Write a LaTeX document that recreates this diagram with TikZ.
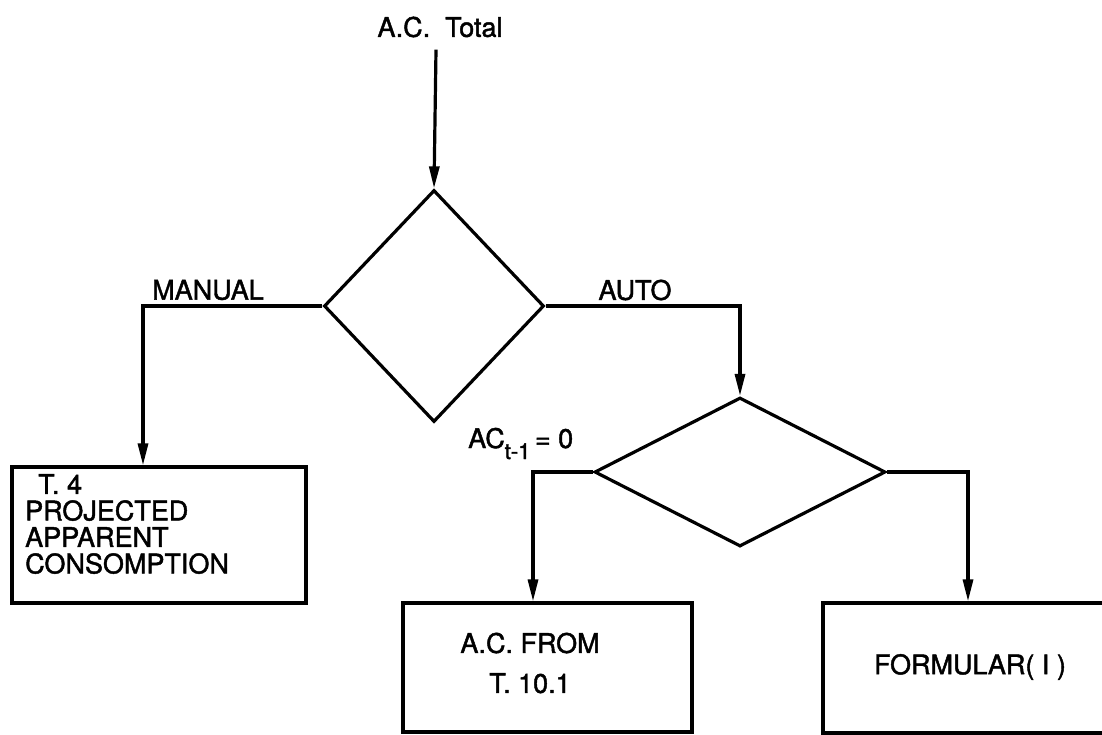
\documentclass[tikz,border=0pt]{standalone}
\usepackage{fontspec}
\setmainfont{TeX Gyre Heros}[FakeBold=1.6]
\usetikzlibrary{shapes.geometric,arrows.meta}
\tikzset{
  ln/.style={line width=3.2pt},
  arr/.style={ln,-{Triangle[length=22pt,width=10pt]}},
  dia/.style={ln,draw,diamond,inner sep=0pt,miter limit=20},
  boxx/.style={ln,draw,rectangle,inner sep=0pt},
  lbl/.style={inner sep=0pt,font=\fontsize{27}{26.5}\selectfont}
}
\begin{document}
\begin{tikzpicture}[x=1pt,y=-1pt]
\clip (0,0) rectangle (1102,734);
\fill[white] (0,0) rectangle (1102,734);
% texts
\node[lbl] (top) at (440,27) {A.C.\ \ Total};
\node[lbl] (man) at (208,290) {MANUAL};
\node[lbl] (auto) at (635,290) {AUTO};
\node[lbl,anchor=base west] (cond) at (468,448) {AC\raisebox{-11pt}{\fontsize{22}{22}\selectfont t-1}\,= 0};
% shapes
\node[dia,minimum width=220pt,minimum height=232pt] (d1) at (434,306) {};
\node[dia,minimum width=291pt,minimum height=149pt] (d2) at (740,472) {};
\node[boxx,minimum width=294pt,minimum height=136pt] (lbox) at (159,535) {};
\node[boxx,minimum width=289pt,minimum height=129pt] (mbox) at (547.5,667.5) {};
\node[boxx,minimum width=290pt,minimum height=130pt] (rbox) at (968,668) {};
% box texts
\node[lbl,anchor=north west,align=left] (ltext) at (25,474) {\hspace*{13pt}T. 4\\PROJECTED\\APPARENT\\CONSOMPTION};
\node[lbl,align=center,font=\fontsize{27}{40}\selectfont] (mtext) at (530,663) {A.C. FROM\\T. 10.1};
\node[lbl] (rtext) at (970,667) {FORMULAR( I )};
% connectors
\draw[arr] (top.south) ++(-4,12) -- (d1.north);
\draw[arr] (d1.west) -| ([xshift=-16pt]lbox.north);
\draw[arr] (d1.east) -| (d2.north);
\draw[arr] (d2.west) -| ([xshift=-14.5pt]mbox.north);
\draw[arr] (d2.east) -| (rbox.north);
\end{tikzpicture}
\end{document}
